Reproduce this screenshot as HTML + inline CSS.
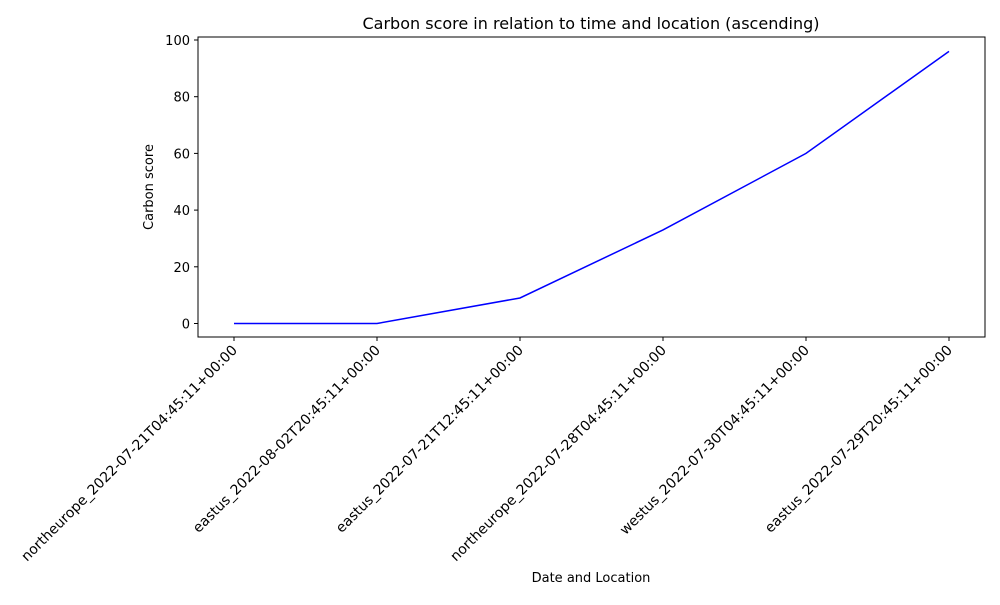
<!DOCTYPE html>
<html><head><meta charset="utf-8"><style>
body{margin:0;background:#fff;}
svg text{font-family:"DejaVu Sans","Liberation Sans",sans-serif;fill:#000;}
</style></head><body>
<svg id="chart" width="1000" height="600" xmlns="http://www.w3.org/2000/svg">
<rect width="1000" height="600" fill="#fff"/>
<text x="591" y="29" font-size="16" text-anchor="middle">Carbon score in relation to time and location (ascending)</text>
<text x="591" y="582" font-size="13" text-anchor="middle">Date and Location</text>
<text transform="translate(153,187) rotate(-90)" font-size="13" text-anchor="middle">Carbon score</text>
<g id="plot"></g>
</svg>
<script>
const categories=["northeurope_2022-07-21T04:45:11+00:00","eastus_2022-08-02T20:45:11+00:00","eastus_2022-07-21T12:45:11+00:00","northeurope_2022-07-28T04:45:11+00:00","westus_2022-07-30T04:45:11+00:00","eastus_2022-07-29T20:45:11+00:00"];
const values=[0,0,9,33,60,96];
const yTicks=[0,20,40,60,80,100];
const L=198,R=985,T=37,B=337;
function x(i){return 234+i*(949-234)/(categories.length-1);}
function y(v){return 323.5-v*(323.5-40)/100;}
const ns="http://www.w3.org/2000/svg";
const g=document.getElementById('plot');
function mk(t,a){const e=document.createElementNS(ns,t);for(const k in a)e.setAttribute(k,a[k]);g.appendChild(e);return e;}
yTicks.forEach(v=>{
 const l=mk('line',{x1:L-4,x2:L,y1:y(v),y2:y(v),stroke:'#000','stroke-width':1});
 
 
 const t=mk('text',{x:L-8,y:y(v)+5,'font-size':13,'text-anchor':'end'});
 t.textContent=v;
 
 
});
categories.forEach((c,i)=>{
 const l=mk('line',{x1:x(i),x2:x(i),y1:B,y2:B+4,stroke:'#000','stroke-width':1});
 
 
 const t=mk('text',{transform:`translate(${x(i)+4},${B+14}) rotate(-45)`,'font-size':14,'text-anchor':'end'});
 t.textContent=c;
 
 
});
const p=mk('polyline',{points:values.map((v,i)=>x(i)+','+y(v)).join(' '),fill:'none',stroke:'#0000ff','stroke-width':1.5});


const f=mk('rect',{x:L,y:T,width:R-L,height:B-T,fill:'none',stroke:'#000','stroke-width':1});


</script>
</body></html>
